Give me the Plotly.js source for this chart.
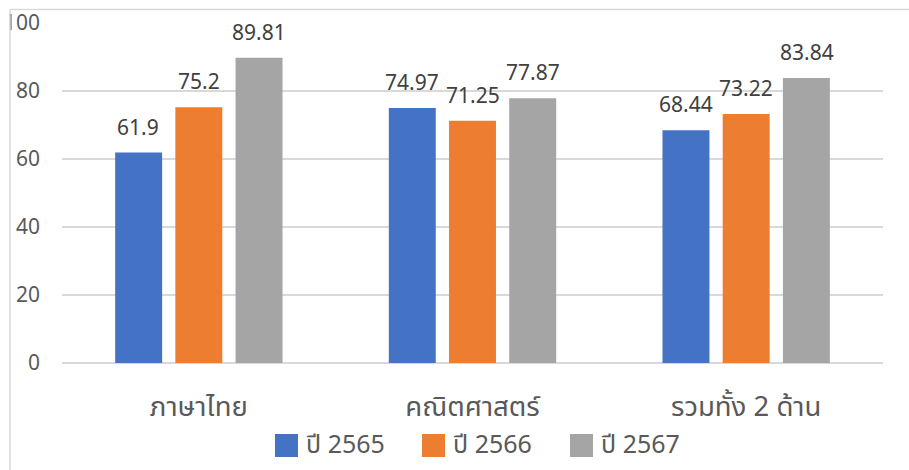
<!DOCTYPE html>
<html>
<head>
<meta charset="utf-8">
<script src="https://cdn.plot.ly/plotly-3.0.1.min.js"></script>
<style>html,body{margin:0;padding:0;background:#fff;}</style>
</head>
<body>
<div id="chart" style="width:909px;height:470px;"></div>
<script>
const categories = ["ภาษาไทย", "คณิตศาสตร์", "รวมทั้ง 2 ด้าน"];
const seriesNames = ["ปี 2565", "ปี 2566", "ปี 2567"];
const y2565 = [61.9, 74.97, 68.44];
const y2566 = [75.2, 71.25, 73.22];
const y2567 = [89.81, 77.87, 83.84];
const yTicks = [0, 20, 40, 60, 80, 100];
const colors = ["#4472c4", "#ed7d31", "#a5a5a5"];

const FONT = "'Noto Sans', 'Noto Sans Thai', 'DejaVu Sans', sans-serif";
const W = 909, H = 470;
const M = {l: 62, r: 26, t: 23, b: 107};
const PW = W - M.l - M.r, PH = H - M.t - M.b;
const px2x = p => (p - M.l) / PW;
const py2y = p => (H - M.b - p) / PH;

const series = [y2565, y2566, y2567];
const traces = series.map((vals, i) => ({
  type: "bar",
  name: seriesNames[i],
  x: categories,
  y: vals,
  offsetgroup: String(i),
  marker: {color: colors[i]},
  showlegend: false,
  hoverinfo: "none"
}));

// data labels as annotations bound to the same category/value coordinates
const nS = series.length;
const annotations = [];
series.forEach((vals, i) => {
  vals.forEach((v, j) => {
    annotations.push({
      xref: "x", yref: "y",
      x: categories[j], y: v,
      xshift: (i - (nS - 1) / 2) * 60.5,
      yshift: 10,
      yanchor: "bottom",
      showarrow: false,
      text: String(v),
      font: {family: FONT, size: 21, color: "#404040"}
    });
  });
});

// legend (drawn as shapes + text to match the large swatches)
const legendSquareLeft = [275, 422, 570];
const shapes = [];
seriesNames.forEach((name, i) => {
  const x0 = legendSquareLeft[i];
  shapes.push({
    type: "rect", xref: "paper", yref: "paper", layer: "above",
    x0: px2x(x0), x1: px2x(x0 + 23), y0: py2y(457), y1: py2y(434),
    fillcolor: colors[i], line: {width: 0}
  });
  annotations.push({
    xref: "paper", yref: "paper",
    x: px2x(x0 + 29), y: py2y(443),
    xanchor: "left", yanchor: "middle",
    showarrow: false,
    text: name,
    font: {family: FONT, size: 25, color: "#595959"}
  });
});

// white mask clipping the left of the "100" label, then frame lines
shapes.push({type: "rect", xref: "paper", yref: "paper", layer: "above",
  x0: px2x(-5), x1: px2x(9.5), y0: py2y(45), y1: py2y(0),
  fillcolor: "#ffffff", line: {width: 0}});
shapes.push({type: "line", xref: "paper", yref: "paper", layer: "above",
  x0: px2x(10), x1: px2x(10), y0: py2y(480), y1: py2y(9.5),
  line: {color: "#d9d9d9", width: 1.5}});
shapes.push({type: "line", xref: "paper", yref: "paper", layer: "above",
  x0: px2x(10), x1: px2x(920), y0: py2y(9.5), y1: py2y(9.5),
  line: {color: "#d9d9d9", width: 1.5}});

const layout = {
  width: W, height: H,
  margin: M,
  paper_bgcolor: "#ffffff",
  plot_bgcolor: "#ffffff",
  barmode: "group",
  bargap: 0.34,
  bargroupgap: 0.22,
  font: {family: FONT, color: "#595959"},
  showlegend: false,
  xaxis: {
    type: "category",
    showgrid: false,
    showline: false,
    ticks: "",
    tickfont: {family: FONT, size: 27.5, color: "#595959"},
    ticklabelstandoff: 24
  },
  yaxis: {
    range: [0, 100],
    tickvals: yTicks,
    ticktext: yTicks.map(String),
    showgrid: true,
    gridcolor: "#d9d9d9",
    gridwidth: 1.5,
    zeroline: true,
    zerolinecolor: "#d9d9d9",
    zerolinewidth: 1.5,
    showline: false,
    ticks: "",
    tickfont: {family: FONT, size: 21, color: "#595959"},
    ticklabelstandoff: 21
  },
  shapes: shapes,
  annotations: annotations
};

Plotly.newPlot("chart", traces, layout, {displayModeBar: false, staticPlot: true});
</script>
</body>
</html>
